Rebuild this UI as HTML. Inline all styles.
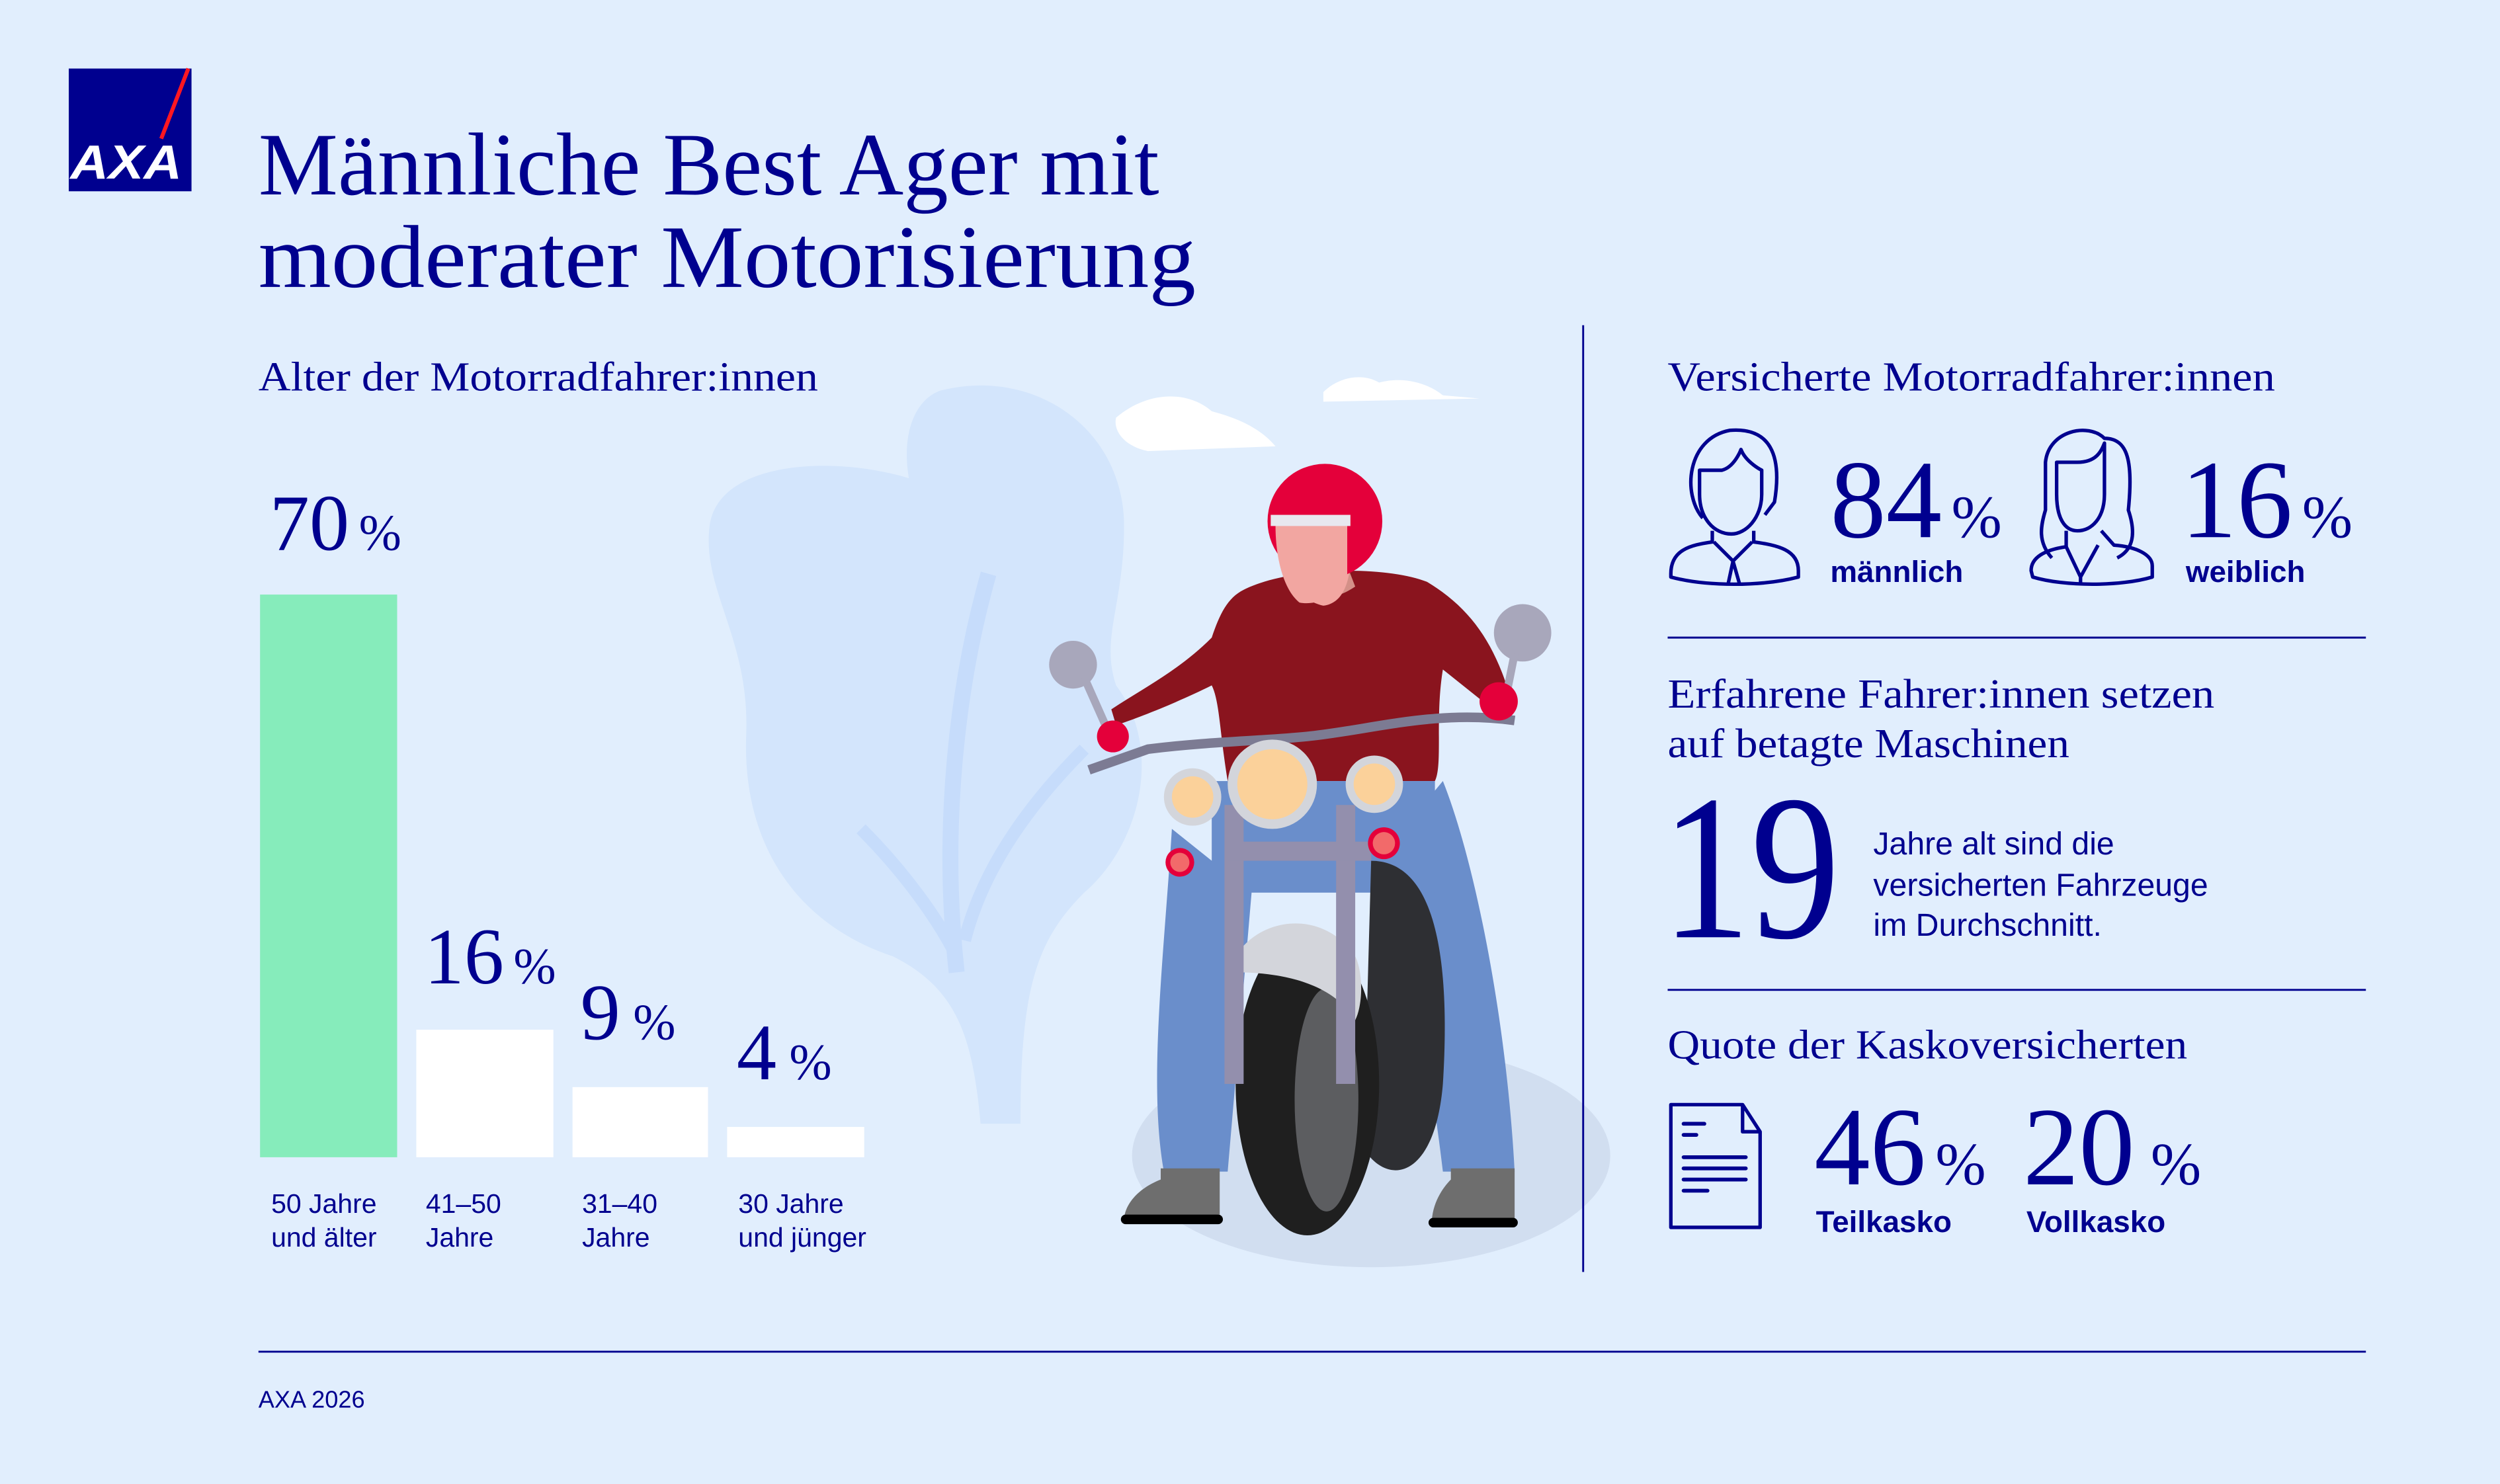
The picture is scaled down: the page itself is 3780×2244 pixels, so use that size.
<!DOCTYPE html>
<html><head><meta charset="utf-8"><style>
html,body{margin:0;padding:0;background:#e1eefd;}
svg{display:block}
.sr{font-family:"Liberation Serif",serif;fill:#00008f}
.ss{font-family:"Liberation Sans",sans-serif;fill:#00008f}
</style></head><body>
<svg width="3780" height="2244" viewBox="0 0 1568 931" xmlns="http://www.w3.org/2000/svg">
<rect width="1568" height="931" fill="#e1eefd"/>
<!-- logo -->
<rect x="43" y="43" width="77" height="77" fill="#00008f"/>
<line x1="118" y1="43" x2="101" y2="87" stroke="#ff1721" stroke-width="2.5"/>
<text x="44" y="112" class="ss" style="fill:#fff;font-weight:bold;font-style:italic" font-size="30" textLength="70" lengthAdjust="spacingAndGlyphs">AXA</text>
<!-- title -->
<text x="162" y="122" class="sr" font-size="56" textLength="565" lengthAdjust="spacingAndGlyphs">Männliche Best Ager mit</text>
<text x="162" y="180" class="sr" font-size="56" textLength="588" lengthAdjust="spacingAndGlyphs">moderater Motorisierung</text>
<text x="162" y="245" class="sr" font-size="26" textLength="351" lengthAdjust="spacingAndGlyphs">Alter der Motorradfahrer:innen</text>

<!-- illustration background -->
<path d="M590 245 C650 230 705 270 705 330 C705 380 690 400 700 430 C730 470 715 530 680 560 C650 590 640 620 640 705 L615 705 C610 650 600 620 560 600 C500 580 465 530 468 460 C470 400 440 370 445 330 C450 290 520 285 570 300 C565 270 575 250 590 245Z" fill="#d3e5fc"/>
<path d="M620 360 C600 430 590 520 600 610" stroke="#c6dcfb" stroke-width="10" fill="none"/>
<path d="M540 520 C570 550 590 580 600 600 M680 470 C640 510 615 550 605 590" stroke="#c6dcfb" stroke-width="8" fill="none"/>
<ellipse cx="860" cy="725" rx="150" ry="70" fill="#d1def0"/>
<path d="M700 262 C720 245 745 245 760 258 C775 262 790 268 800 280 L720 283 C705 280 698 270 700 262Z" fill="#fff"/>
<path d="M830 246 C840 236 855 234 865 240 C880 236 895 240 905 248 L928 250 L830 252Z" fill="#fff"/>

<!-- rider -->
<path d="M735 520 C730 600 720 680 730 735 L770 735 L785 560 Z" fill="#6a8ecb"/>
<path d="M880 520 L905 490 C925 540 945 640 950 735 L905 735 C895 650 880 600 880 520Z" fill="#6a8ecb"/>
<rect x="760" y="490" width="140" height="70" fill="#6a8ecb"/>
<path d="M780 370 C810 355 870 355 895 365 C920 380 935 400 945 430 L930 440 L905 420 C900 450 905 480 900 490 L770 490 C765 460 765 440 760 430 C740 440 715 450 700 455 L697 445 C720 430 740 420 760 400 C765 385 770 375 780 370Z" fill="#8a141e"/>
<path d="M810 360 L845 355 L850 368 C835 378 820 378 810 370Z" fill="#d49088"/>
<path d="M803 328 C803 350 808 375 830 380 C845 378 848 360 848 335 Z" fill="#f2a6a1"/>
<circle cx="831" cy="327" r="36" fill="#e4003a"/>
<path d="M796 322 C796 310 845 312 848 322 L848 340 L803 340 Z" fill="#e4003a"/>
<path d="M800 330 C815 322 835 325 845 330 L845 360 C840 375 825 380 815 378 C805 370 800 350 800 330Z" fill="#f2a6a1"/>
<rect x="797" y="323" width="50" height="7" fill="#e8e8ef"/>
<!-- handlebar -->
<path d="M683 483 L720 470 C760 465 790 465 820 462 C860 458 900 445 950 452" stroke="#7c7b93" stroke-width="6" fill="none"/>
<circle cx="673" cy="417" r="15" fill="#a8a7bb"/>
<circle cx="955" cy="397" r="18" fill="#a8a7bb"/>
<path d="M680 425 L700 470 M950 410 L942 450" stroke="#a8a7bb" stroke-width="5"/>
<circle cx="698" cy="462" r="10" fill="#e4003a"/>
<circle cx="940" cy="440" r="12" fill="#e4003a"/>
<!-- bike -->
<path d="M860 540 C900 540 910 600 905 680 C900 740 870 745 855 720 Z" fill="#2e2f33"/>
<ellipse cx="820" cy="680" rx="45" ry="95" fill="#1f1f1f"/>
<ellipse cx="832" cy="690" rx="20" ry="70" fill="#5c5d60"/>
<path d="M775 600 C790 575 830 570 850 600 C855 610 855 630 850 640 C835 615 800 610 775 610Z" fill="#d3d5db"/>
<rect x="768" y="505" width="12" height="175" fill="#938fad"/>
<rect x="838" y="505" width="12" height="175" fill="#938fad"/>
<rect x="770" y="528" width="90" height="12" fill="#938fad"/>
<circle cx="798" cy="492" r="28" fill="#d3d5db"/><circle cx="798" cy="492" r="22" fill="#fbd19a"/>
<circle cx="748" cy="500" r="18" fill="#d3d5db"/><circle cx="748" cy="500" r="13" fill="#fbd19a"/>
<circle cx="862" cy="492" r="18" fill="#d3d5db"/><circle cx="862" cy="492" r="13" fill="#fbd19a"/>
<circle cx="740" cy="541" r="9" fill="#e4003a"/><circle cx="740" cy="541" r="6" fill="#f26a6a"/>
<circle cx="868" cy="529" r="10" fill="#e4003a"/><circle cx="868" cy="529" r="7" fill="#f26a6a"/>
<!-- boots -->
<path d="M728 733 L765 733 L765 762 L705 766 C705 755 715 745 728 740Z" fill="#6e6e6e"/>
<path d="M910 733 L950 733 L950 765 L898 768 C898 755 905 745 910 740Z" fill="#6e6e6e"/>
<rect x="703" y="762" width="64" height="6" rx="3" fill="#000"/>
<rect x="896" y="764" width="56" height="6" rx="3" fill="#000"/>

<!-- bars -->
<rect x="163" y="373" width="86" height="353" fill="#86ecbb"/>
<rect x="261" y="646" width="86" height="80" fill="#fff"/>
<rect x="359" y="682" width="85" height="44" fill="#fff"/>
<rect x="456" y="707" width="86" height="19" fill="#fff"/>
<text x="169" y="345" class="sr" font-size="50">70<tspan font-size="32" dx="6">%</tspan></text>
<text x="266" y="617" class="sr" font-size="50">16<tspan font-size="32" dx="6">%</tspan></text>
<text x="364" y="652" class="sr" font-size="50">9<tspan font-size="32" dx="8">%</tspan></text>
<text x="462" y="677" class="sr" font-size="50">4<tspan font-size="32" dx="8">%</tspan></text>
<g class="ss" font-size="17">
<text x="170" y="761">50 Jahre</text><text x="170" y="782">und älter</text>
<text x="267" y="761">41–50</text><text x="267" y="782">Jahre</text>
<text x="365" y="761">31–40</text><text x="365" y="782">Jahre</text>
<text x="463" y="761">30 Jahre</text><text x="463" y="782">und jünger</text>
</g>

<line x1="993" y1="204" x2="993" y2="798" stroke="#00008f" stroke-width="1.2"/>

<!-- right -->
<text x="1046" y="245" class="sr" font-size="26" textLength="381" lengthAdjust="spacingAndGlyphs">Versicherte Motorradfahrer:innen</text>
<g fill="none" stroke="#00008f" stroke-width="2.2" stroke-linejoin="round">
<path d="M1068 325 C1055 310 1058 275 1085 270 C1110 268 1118 285 1113 315 L1107 323"/>
<path d="M1066 295 L1080 295 C1088 293 1092 282 1092 282 C1095 290 1105 295 1105 295 L1105 310 C1105 325 1095 335 1086 335 C1075 335 1066 325 1066 310Z"/>
<path d="M1074 333 L1074 340 C1060 342 1048 345 1048 360 L1048 362 C1070 368 1105 368 1128 362 L1128 358 C1128 345 1115 342 1100 340 L1100 333"/>
<path d="M1075 340 L1087 352 L1099 340 M1087 352 L1084 366 M1087 352 L1091 366"/>
<path d="M1287 350 C1278 340 1280 330 1283 320 L1283 290 C1285 270 1310 265 1320 275 C1335 275 1338 290 1335 320 C1340 335 1338 345 1328 350"/>
<path d="M1290 290 L1303 290 C1315 290 1318 283 1320 278 L1320 310 C1320 325 1312 333 1303 333 C1295 333 1290 325 1290 310Z"/>
<path d="M1296 333 L1296 343 C1282 345 1274 350 1274 358 L1275 362 C1295 368 1330 368 1350 362 L1350 355 C1350 348 1340 343 1326 342 L1318 333"/>
<path d="M1296 343 L1305 362 L1316 342 M1305 362 L1305 366"/>
<path d="M1048 693 L1093 693 L1104 710 L1104 770 L1048 770Z M1093 693 L1093 710 L1104 710"/>
</g>
<g stroke="#00008f" stroke-width="2.4" stroke-linecap="round">
<line x1="1056" y1="705" x2="1069" y2="705"/><line x1="1056" y1="712" x2="1064" y2="712"/>
<line x1="1056" y1="726" x2="1095" y2="726"/><line x1="1056" y1="733" x2="1095" y2="733"/>
<line x1="1056" y1="740" x2="1095" y2="740"/><line x1="1056" y1="747" x2="1071" y2="747"/>
</g>
<text x="1148" y="337" class="sr" font-size="70">84<tspan font-size="38" dx="6">%</tspan></text>
<text x="1148" y="365" class="ss" font-size="19" font-weight="bold">männlich</text>
<text x="1368" y="337" class="sr" font-size="70">16<tspan font-size="38" dx="6">%</tspan></text>
<text x="1371" y="365" class="ss" font-size="19" font-weight="bold">weiblich</text>
<line x1="1046" y1="400" x2="1484" y2="400" stroke="#00008f" stroke-width="1.2"/>
<text x="1046" y="444" class="sr" font-size="26" textLength="343" lengthAdjust="spacingAndGlyphs">Erfahrene Fahrer:innen setzen</text>
<text x="1046" y="475" class="sr" font-size="26" textLength="252" lengthAdjust="spacingAndGlyphs">auf betagte Maschinen</text>
<text x="1042" y="588" class="sr" font-size="130" textLength="112" lengthAdjust="spacingAndGlyphs">19</text>
<g class="ss" font-size="20">
<text x="1175" y="536">Jahre alt sind die</text>
<text x="1175" y="562">versicherten Fahrzeuge</text>
<text x="1175" y="587">im Durchschnitt.</text>
</g>
<line x1="1046" y1="621" x2="1484" y2="621" stroke="#00008f" stroke-width="1.2"/>
<text x="1046" y="664" class="sr" font-size="26" textLength="326" lengthAdjust="spacingAndGlyphs">Quote der Kaskoversicherten</text>
<text x="1138" y="743" class="sr" font-size="70">46<tspan font-size="38" dx="6">%</tspan></text>
<text x="1139" y="773" class="ss" font-size="19" font-weight="bold">Teilkasko</text>
<text x="1269" y="743" class="sr" font-size="70">20<tspan font-size="38" dx="10">%</tspan></text>
<text x="1271" y="773" class="ss" font-size="19" font-weight="bold">Vollkasko</text>

<line x1="162" y1="848" x2="1484" y2="848" stroke="#00008f" stroke-width="1.2"/>
<text x="162" y="883" class="ss" font-size="15">AXA 2026</text>
</svg>
</body></html>
